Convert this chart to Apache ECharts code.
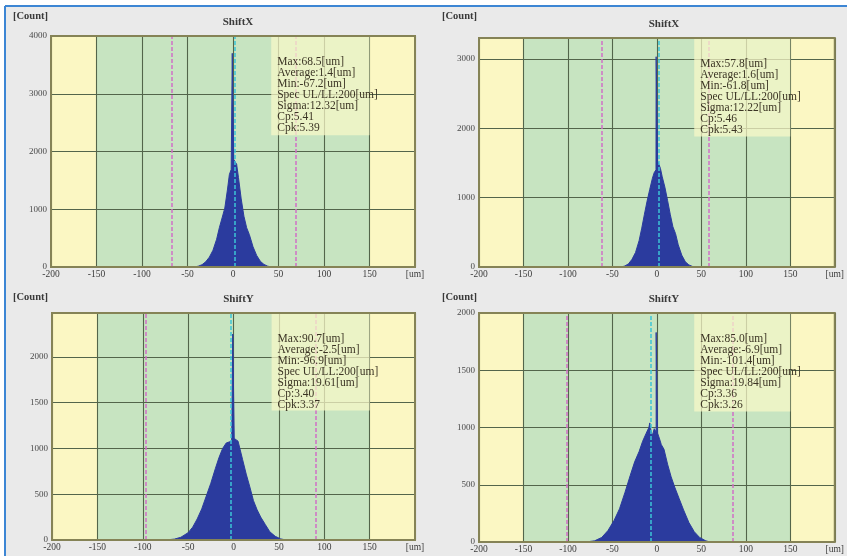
<!DOCTYPE html>
<html>
<head>
<meta charset="utf-8">
<script src="https://cdn.jsdelivr.net/npm/echarts@6/dist/echarts.min.js"></script>
<style>
html, body { margin: 0; padding: 0; background: #ffffff; }
#chart { width: 847px; height: 556px; }
</style>
</head>
<body>
<div id="chart"></div>
<script>
// histogram outlines (position in um, count)
const pos1 = [-42, -38, -34, -30, -26, -22, -18, -15, -12, -9, -6, -4, -2, -0.8, -0.8, 0.8, 0.8, 2, 4, 6, 9, 12, 15, 18, 22, 26, 30, 34, 38, 42];
const cnt1 = [0, 15, 40, 90, 170, 290, 480, 680, 850, 1020, 1350, 1600, 1690, 1720, 3700, 3700, 1860, 1840, 1780, 1550, 1180, 880, 680, 560, 350, 200, 100, 45, 15, 0];

const pos2 = [-40, -36, -32, -28, -24, -20, -17, -14, -11, -8, -5, -3, -1, -0.8, -0.8, 0.8, 0.8, 2, 4, 6, 9, 12, 15, 18, 21, 24, 28, 32, 36, 40, 43];
const cnt2 = [0, 15, 45, 110, 210, 380, 560, 760, 950, 1120, 1280, 1360, 1400, 1410, 3030, 3030, 1530, 1520, 1420, 1300, 1150, 960, 760, 580, 480, 320, 170, 75, 30, 8, 0];

const pos3 = [-75, -65, -58, -50, -45, -40, -35, -30, -25, -20, -16, -12, -8, -5, -2, -0.8, -0.8, 0.8, 0.8, 3, 5, 7, 10, 14, 18, 22, 26, 30, 35, 40, 46, 52, 58];
const cnt3 = [0, 10, 30, 80, 140, 230, 340, 480, 620, 780, 900, 1000, 1060, 1070, 1080, 1090, 2250, 2250, 1110, 1120, 1080, 1000, 880, 720, 580, 430, 330, 250, 170, 90, 40, 12, 0];

const pos4 = [-80, -70, -62, -55, -48, -42, -36, -30, -25, -20, -16, -12, -9, -8, -7, -6, -5, -4, -3, -2, -0.8, -0.8, 0.8, 0.8, 3, 5, 8, 12, 16, 20, 25, 30, 36, 42, 48, 55, 60];
const cnt4 = [0, 10, 40, 100, 190, 290, 430, 580, 700, 790, 880, 950, 1000, 1040, 990, 950, 930, 960, 990, 980, 960, 1830, 1830, 950, 900, 850, 810, 680, 570, 480, 380, 280, 170, 90, 40, 10, 0];

// panel texts and statistics
const titles = ["ShiftX", "ShiftX", "ShiftY", "ShiftY"];
const maxVals = [68.5, 57.8, 90.7, 85.0];
const avgVals = [1.4, 1.6, -2.5, -6.9];
const minVals = [-67.2, -61.8, -96.9, -101.4];
const sigmaVals = ["12.32", "12.22", "19.61", "19.84"];
const cpVals = ["5.41", "5.46", "3.40", "3.36"];
const cpkVals = ["5.39", "5.43", "3.37", "3.26"];
const specVal = 200;

// axes
const yMaxVals = [4000, 3300, 2480, 2000];
const yStepVals = [1000, 1000, 500, 500];
const xMin = -200, xMax = 200, xStep = 50;
const greenFrom = -150, greenTo = 150;

const positions = [pos1, pos2, pos3, pos4];
const counts = [cnt1, cnt2, cnt3, cnt4];

// layout
const grids = [
  { left: 51, top: 36, width: 364, height: 231 },
  { left: 479, top: 38, width: 360, height: 229 },
  { left: 52, top: 313, width: 363, height: 227 },
  { left: 479, top: 313, width: 360, height: 229 }
];
const countLabelPos = [[8, 6], [437, 6], [8, 287], [437, 287]];

const serif = "'Liberation Serif', 'DejaVu Serif', serif";
const gridLineColor = "#53654b";

let chart = echarts.init(document.getElementById("chart"));

let option = {
  animation: false,
  backgroundColor: "#ffffff",
  graphic: [
    { type: "rect", z: -10, shape: { x: 5, y: 6, width: 842, height: 550 }, style: { fill: "#eaeaea" } },
    { type: "line", z: -9, shape: { x1: 5, y1: 6, x2: 847, y2: 6 }, style: { stroke: "#3d86d4", lineWidth: 2 } },
    { type: "line", z: -9, shape: { x1: 5, y1: 6, x2: 5, y2: 556 }, style: { stroke: "#3d86d4", lineWidth: 2 } }
  ],
  title: [],
  grid: [],
  xAxis: [],
  yAxis: [],
  series: []
};

for (let i = 0; i < 4; i++) {
  let g = grids[i];
  // plot title
  option.title.push({
    text: titles[i],
    left: g.left + g.width / 2,
    top: g.top - 24,
    textAlign: "center",
    textStyle: { fontFamily: serif, fontSize: 11, fontWeight: "bold", color: "#3a3a3a" }
  });
  // [Count]
  option.title.push({
    text: "[Count]",
    left: countLabelPos[i][0],
    top: countLabelPos[i][1],
    textStyle: { fontFamily: serif, fontSize: 10.5, fontWeight: "bold", color: "#3a3a3a" }
  });
  option.grid.push({
    left: g.left, top: g.top, width: g.width, height: g.height,
    show: true, z: 10,
    backgroundColor: "transparent",
    borderColor: "#858356", borderWidth: 2
  });
  option.xAxis.push({
    type: "value", gridIndex: i, z: 2,
    min: xMin, max: xMax, interval: xStep,
    axisLine: { show: false },
    axisTick: { show: false },
    splitLine: { show: true, lineStyle: { color: gridLineColor, width: 1.1 } },
    axisLabel: {
      margin: 2, fontFamily: serif, fontSize: 9.5, color: "#3c3c3c",
      formatter: function (v) { return v === xMax ? "[um]" : String(v); }
    }
  });
  let step = yStepVals[i];
  option.yAxis.push({
    type: "value", gridIndex: i, z: 2,
    min: 0, max: yMaxVals[i], interval: step,
    axisLine: { show: false },
    axisTick: { show: false },
    splitLine: { show: true, lineStyle: { color: gridLineColor, width: 1.1 } },
    axisLabel: {
      margin: 4, fontFamily: serif, fontSize: 9, color: "#4a4a4a",
      formatter: function (v) { return v % step === 0 ? String(v) : ""; }
    }
  });

  // yellow / green zones
  option.series.push({
    type: "line", xAxisIndex: i, yAxisIndex: i, data: [], silent: true,
    markArea: {
      z: 1, silent: true,
      data: [
        [{ xAxis: xMin, itemStyle: { color: "#fbf7c3" } }, { xAxis: greenFrom }],
        [{ xAxis: greenFrom, itemStyle: { color: "#c7e4c1" } }, { xAxis: greenTo }],
        [{ xAxis: greenTo, itemStyle: { color: "#fbf7c3" } }, { xAxis: xMax }]
      ]
    }
  });

  // histogram
  let pts = positions[i].map(function (x, k) { return [x, counts[i][k]]; });
  option.series.push({
    type: "line", xAxisIndex: i, yAxisIndex: i, z: 3,
    data: pts, symbol: "none", silent: true,
    lineStyle: { color: "#2b3b9e", width: 1 },
    areaStyle: { color: "#2b3b9e", opacity: 1 }
  });

  // min / max / average lines
  let pink = { color: "#d16fc6", width: 1.5, type: [4, 2] };
  let cyan = { color: "#3cc5d6", width: 1.5, type: [4, 2] };
  option.series.push({
    type: "line", xAxisIndex: i, yAxisIndex: i, data: [], silent: true,
    markLine: {
      z: 5, silent: true, symbol: "none", label: { show: false },
      data: [
        { xAxis: minVals[i], lineStyle: pink },
        { xAxis: maxVals[i], lineStyle: pink },
        { xAxis: avgVals[i], lineStyle: cyan }
      ]
    }
  });

  // statistics box
  let lines = [
    "Max:" + maxVals[i].toFixed(1) + "[um]",
    "Average:" + avgVals[i].toFixed(1) + "[um]",
    "Min:" + minVals[i].toFixed(1) + "[um]",
    "Spec UL/LL:" + specVal + "[um]",
    "Sigma:" + sigmaVals[i] + "[um]",
    "Cp:" + cpVals[i],
    "Cpk:" + cpkVals[i]
  ];
  option.series.push({
    type: "line", xAxisIndex: i, yAxisIndex: i, data: [], silent: true,
    markArea: {
      z: 6, silent: true,
      itemStyle: { color: "rgba(250, 248, 200, 0.72)" },
      label: {
        show: true, position: "insideTopLeft", distance: 0,
        padding: [20, 0, 0, 6],
        fontFamily: serif, fontSize: 11.5, lineHeight: 11, color: "#3b3424",
        formatter: lines.join("\n")
      },
      data: [[{ xAxis: 42, yAxis: yMaxVals[i] * 0.57 }, { xAxis: greenTo, yAxis: yMaxVals[i] }]]
    }
  });
}

chart.setOption(option);
</script>
</body>
</html>
